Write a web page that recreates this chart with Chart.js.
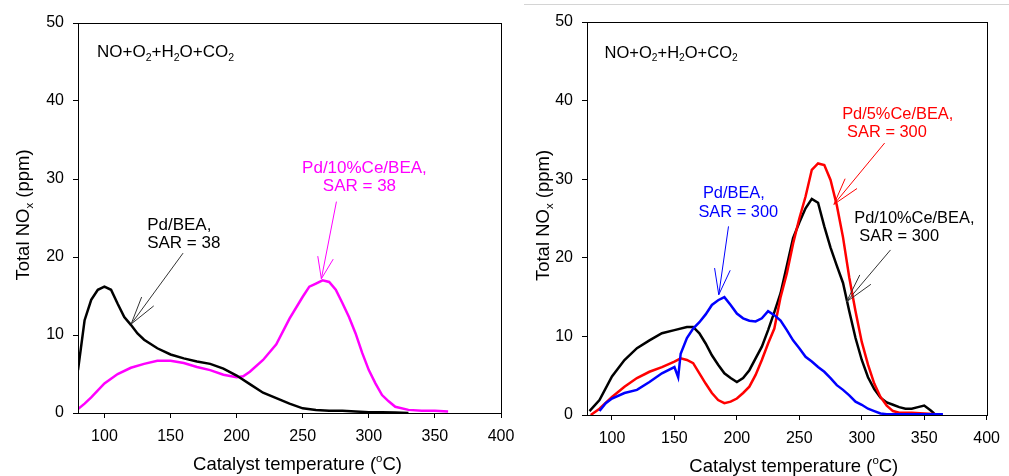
<!DOCTYPE html>
<html>
<head>
<meta charset="utf-8">
<script src="https://cdn.jsdelivr.net/npm/chart.js@4/dist/chart.umd.min.js"></script>
<style>
body { margin: 0; background: #fff; width: 1009px; height: 476px; position: relative; overflow: hidden; }
canvas { position: absolute; top: 0; }
#c1 { left: 0; }
#c2 { left: 505px; }
#rule { position: absolute; top: 4px; left: 524px; right: 0; height: 1px; background: #d4d4d4; }
</style>
</head>
<body>
<canvas id="c1" width="525" height="476"></canvas>
<canvas id="c2" width="504" height="476"></canvas>
<div id="rule"></div>
<script>
const FONT = '"Liberation Sans", Arial, sans-serif';

const xTicks = [100, 150, 200, 250, 300, 350, 400];
const yTicks = [0, 10, 20, 30, 40, 50];

// left panel, SAR = 38
const tPdBea38 = [80, 85, 90, 95, 100, 105, 110, 115, 120, 125, 130, 140, 150, 160, 170, 180, 190, 200, 210, 220, 230, 240, 250, 260, 270, 280, 290, 300, 310, 320, 330];
const nPdBea38 = [5.5, 11.9, 14.5, 15.8, 16.2, 15.8, 14.0, 12.3, 11.3, 10.2, 9.4, 8.3, 7.5, 7.0, 6.6, 6.3, 5.7, 4.8, 3.7, 2.6, 1.9, 1.2, 0.6, 0.4, 0.3, 0.3, 0.2, 0.1, 0.1, 0.05, 0];
const tPdCe10_38 = [80, 85, 90, 100, 110, 120, 130, 140, 150, 160, 170, 180, 190, 200, 205, 210, 220, 230, 240, 250, 255, 260, 265, 270, 275, 280, 285, 290, 295, 300, 305, 310, 315, 320, 330, 340, 350, 360];
const nPdCe10_38 = [0.5, 1.2, 2.0, 3.8, 5.0, 5.8, 6.3, 6.7, 6.7, 6.4, 5.9, 5.5, 4.9, 4.6, 4.7, 5.3, 6.8, 8.8, 12.1, 14.9, 16.2, 16.6, 17.0, 16.8, 15.8, 14.1, 12.3, 10.2, 7.7, 5.5, 3.8, 2.3, 1.5, 0.8, 0.4, 0.3, 0.3, 0.2];

// right panel, SAR = 300
const tPdBea300 = [90, 95, 100, 110, 120, 130, 140, 150, 153, 155, 160, 165, 170, 175, 180, 185, 190, 195, 200, 205, 210, 215, 220, 225, 230, 235, 240, 245, 250, 255, 260, 265, 270, 275, 280, 285, 290, 295, 300, 305, 310, 315, 320, 330, 340, 350, 365];
const nPdBea300 = [0.5, 1.5, 2.1, 2.8, 3.2, 4.2, 5.3, 6.1, 4.8, 7.8, 9.8, 11.0, 11.8, 12.8, 14.0, 14.6, 15.0, 14.0, 12.9, 12.3, 12.0, 11.9, 12.3, 13.2, 12.7, 12.0, 10.8, 9.5, 8.5, 7.4, 6.8, 6.1, 5.5, 4.7, 3.8, 3.2, 2.5, 1.7, 1.3, 0.8, 0.5, 0.2, 0.1, 0.1, 0.1, 0.1, 0.1];
const tPdCe5_300 = [83, 90, 100, 110, 120, 130, 140, 150, 155, 160, 165, 170, 175, 180, 185, 190, 195, 200, 205, 210, 215, 220, 225, 230, 235, 240, 245, 250, 255, 260, 265, 270, 275, 280, 285, 290, 295, 300, 305, 310, 315, 320, 325, 330, 340, 350, 360];
const nPdCe5_300 = [0, 0.8, 2.3, 3.6, 4.7, 5.5, 6.1, 6.8, 7.2, 7.0, 6.6, 5.3, 4.0, 2.8, 1.9, 1.5, 1.7, 2.1, 2.8, 3.6, 5.1, 7.0, 9.1, 11.0, 15.0, 18.0, 21.8, 25.0, 27.8, 31.2, 32.0, 31.8, 29.9, 26.7, 22.6, 17.5, 13.2, 9.3, 6.4, 4.0, 2.3, 1.2, 0.5, 0.3, 0.3, 0.2, 0.1];
const tPdCe10_300 = [82, 90, 100, 110, 120, 130, 140, 150, 160, 165, 170, 175, 180, 185, 190, 195, 200, 205, 210, 215, 220, 225, 230, 235, 240, 245, 250, 255, 260, 265, 270, 275, 280, 285, 290, 295, 300, 305, 310, 315, 320, 325, 330, 335, 340, 345, 350, 355, 358];
const nPdCe10_300 = [0.5, 1.9, 4.9, 7.0, 8.5, 9.5, 10.4, 10.8, 11.2, 11.2, 10.4, 9.1, 7.6, 6.4, 5.3, 4.7, 4.2, 4.7, 5.7, 7.2, 8.7, 10.8, 13.1, 15.5, 19.0, 22.5, 24.5, 26.3, 27.5, 27.0, 24.0, 21.3, 19.0, 16.8, 13.2, 9.8, 7.0, 4.8, 3.3, 2.2, 1.6, 1.3, 1.0, 0.8, 0.8, 1.0, 1.2, 0.6, 0.2];

// notes and arrows, in data units
const gasSegs = [['NO+O'], ['2', 'sub'], ['+H'], ['2', 'sub'], ['O+CO'], ['2', 'sub']];
const leftNotes = [
    { segs: gasSegs, x: 94.4, y: 46.4, align: 'left', color: '#000', gas: true },
    { segs: [['Pd/10%Ce/BEA,']], x: 296.7, y: 31.5, align: 'center', color: '#ff00ff' },
    { segs: [['SAR = 38']], x: 292.9, y: 29.2, align: 'center', color: '#ff00ff' },
    { segs: [['Pd/BEA,']], x: 132.3, y: 24.2, align: 'left', color: '#000' },
    { segs: [['SAR = 38']], x: 132.3, y: 21.9, align: 'left', color: '#000' }
];
const leftArrows = [
    { from: [159.5, 20.5], to: [120.2, 11.4], head: 29, ang: 15, color: '#333' },
    { from: [275.5, 27.1], to: [264.1, 17.2], head: 23, ang: 20, color: '#ff00ff' }
];
const rightNotes = [
    { segs: gasSegs, x: 94.1, y: 46.2, align: 'left', color: '#000', gas: true },
    { segs: [['Pd/5%Ce/BEA,']], x: 328.8, y: 38.4, align: 'center', color: '#ff0000' },
    { segs: [['SAR = 300']], x: 320.2, y: 36.1, align: 'center', color: '#ff0000' },
    { segs: [['Pd/BEA,']], x: 197.6, y: 28.4, align: 'center', color: '#0000ff' },
    { segs: [['SAR = 300']], x: 201.1, y: 26.0, align: 'center', color: '#0000ff' },
    { segs: [['Pd/10%Ce/BEA,']], x: 342.1, y: 25.2, align: 'center', color: '#000' },
    { segs: [['SAR = 300']], x: 330.0, y: 22.9, align: 'center', color: '#000' }
];
const rightArrows = [
    { from: [318.3, 34.6], to: [277.7, 26.8], head: 28, ang: 16, color: '#ff0000' },
    { from: [193.3, 24.0], to: [185.5, 15.3], head: 27, ang: 17, color: '#0000ff' },
    { from: [323.0, 21.0], to: [287.8, 14.4], head: 30, ang: 14, color: '#333' }
];

const xTitle = [['Catalyst temperature ('], ['o', 'sup'], ['C)']];
const yTitle = [['Total NO'], ['x', 'sub'], [' (ppm)']];

function pts(t, v) {
    return t.map((x, i) => ({ x: x, y: v[i] }));
}

function series(label, t, v, color) {
    return { label: label, data: pts(t, v), borderColor: color, borderWidth: 2.5, pointRadius: 0, fill: false, tension: 0 };
}

// text with sub/superscripts, y is the middle of the capitals
function rich(ctx, segs, x, y, size, color, align) {
    const small = size * 0.62;
    let w = 0;
    segs.forEach(s => {
        ctx.font = (s[1] ? small : size) + 'px ' + FONT;
        w += ctx.measureText(s[0]).width;
    });
    let cx = align === 'center' ? x - w / 2 : x;
    const base = y + size * 0.36;
    ctx.fillStyle = color;
    ctx.textAlign = 'left';
    ctx.textBaseline = 'alphabetic';
    segs.forEach(s => {
        ctx.font = (s[1] ? small : size) + 'px ' + FONT;
        const dy = s[1] === 'sub' ? size * 0.22 : (s[1] === 'sup' ? -size * 0.42 : 0);
        ctx.fillText(s[0], cx, base + dy);
        cx += ctx.measureText(s[0]).width;
    });
}

function makeDecor(o) {
    return {
        id: 'decor',
        afterDraw(chart) {
            const ctx = chart.ctx, a = chart.chartArea;
            const sx = chart.scales.x, sy = chart.scales.y;
            ctx.save();
            ctx.strokeStyle = '#000';
            ctx.lineWidth = 1;
            ctx.strokeRect(Math.round(a.left) + 0.5, Math.round(a.top) + 0.5, Math.round(a.right - a.left), Math.round(a.bottom - a.top));

            o.arrows.forEach(r => {
                const x0 = sx.getPixelForValue(r.from[0]), y0 = sy.getPixelForValue(r.from[1]);
                const x1 = sx.getPixelForValue(r.to[0]), y1 = sy.getPixelForValue(r.to[1]);
                const th = Math.atan2(y0 - y1, x0 - x1), d = r.ang * Math.PI / 180;
                ctx.strokeStyle = r.color;
                ctx.lineWidth = 1;
                ctx.beginPath();
                ctx.moveTo(x0, y0);
                ctx.lineTo(x1, y1);
                ctx.moveTo(x1 + r.head * Math.cos(th - d), y1 + r.head * Math.sin(th - d));
                ctx.lineTo(x1, y1);
                ctx.lineTo(x1 + r.head * Math.cos(th + d), y1 + r.head * Math.sin(th + d));
                ctx.stroke();
            });

            o.notes.forEach(n => {
                rich(ctx, n.segs, sx.getPixelForValue(n.x), sy.getPixelForValue(n.y), n.gas ? o.gasSize : o.noteSize, n.color, n.align);
            });

            rich(ctx, xTitle, (a.left + a.right) / 2 + o.xTitleShift, o.xTitleY, o.titleSize, '#000', 'center');
            ctx.translate(o.yTitleX, (a.top + a.bottom) / 2 - 3);
            ctx.rotate(-Math.PI / 2);
            rich(ctx, yTitle, 0, 0, o.titleSize, '#000', 'center');
            ctx.restore();
        }
    };
}

function makeChart(id, datasets, o) {
    return new Chart(document.getElementById(id), {
        type: 'line',
        data: { datasets: datasets },
        options: {
            responsive: false,
            animation: false,
            layout: { padding: { left: 0, right: o.padRight, top: o.padTop, bottom: 0 } },
            plugins: { legend: { display: false }, tooltip: { enabled: false } },
            scales: {
                x: {
                    type: 'linear', min: 80, max: 400,
                    afterBuildTicks: s => { s.ticks = xTicks.map(v => ({ value: v })); },
                    afterFit: s => { s.height = o.xAxisH; },
                    grid: { drawOnChartArea: false, tickLength: 5, color: '#000' },
                    border: { display: false },
                    ticks: { color: '#000', padding: 9, maxRotation: 0, autoSkip: false, font: { family: FONT, size: o.tickSize } }
                },
                y: {
                    type: 'linear', min: 0, max: 50,
                    afterBuildTicks: s => { s.ticks = yTicks.map(v => ({ value: v })); },
                    afterFit: s => { s.width = o.yAxisW; },
                    grid: { drawOnChartArea: false, tickLength: 5, color: '#000' },
                    border: { display: false },
                    ticks: { color: '#000', padding: 9, font: { family: FONT, size: o.tickSize } }
                }
            }
        },
        plugins: [makeDecor(o)]
    });
}

makeChart('c1', [
    series('Pd/BEA, SAR = 38', tPdBea38, nPdBea38, '#000000'),
    series('Pd/10%Ce/BEA, SAR = 38', tPdCe10_38, nPdCe10_38, '#ff00ff')
], {
    padRight: 24, padTop: 23, xAxisH: 63, yAxisW: 78,
    tickSize: 16, noteSize: 17, gasSize: 17, titleSize: 18.5,
    xTitleShift: 8, xTitleY: 463, yTitleX: 22,
    notes: leftNotes, arrows: leftArrows
});

makeChart('c2', [
    series('Pd/BEA, SAR = 300', tPdBea300, nPdBea300, '#0000ff'),
    series('Pd/5%Ce/BEA, SAR = 300', tPdCe5_300, nPdCe5_300, '#ff0000'),
    series('Pd/10%Ce/BEA, SAR = 300', tPdCe10_300, nPdCe10_300, '#000000')
], {
    padRight: 12, padTop: 22, xAxisH: 61, yAxisW: 82,
    tickSize: 16, noteSize: 16.4, gasSize: 16.5, titleSize: 18.5,
    xTitleShift: 7, xTitleY: 465, yTitleX: 37,
    notes: rightNotes, arrows: rightArrows
});
</script>
</body>
</html>
